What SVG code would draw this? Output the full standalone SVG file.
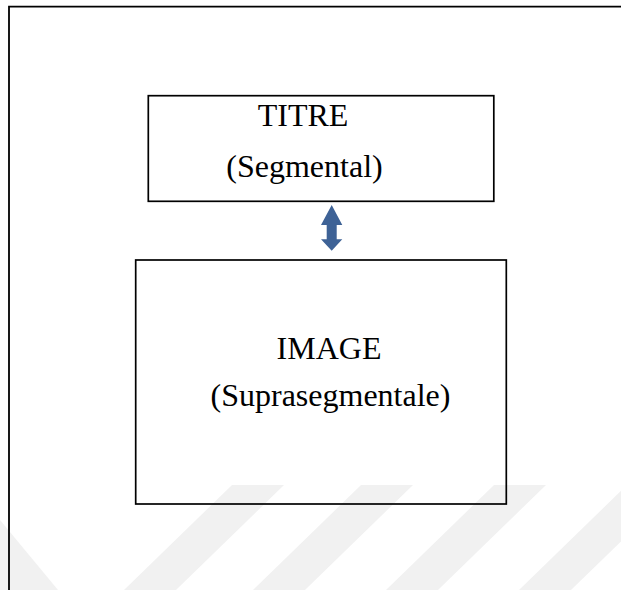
<svg xmlns="http://www.w3.org/2000/svg" width="621" height="590" viewBox="0 0 621 590">
<style>
.frame{fill:none;stroke:#000;stroke-width:1.8}
.box{fill:none;stroke:#000;stroke-width:1.7}
.wm{fill:#f1f1f1}
.lbl{font-family:"Liberation Serif","Times New Roman",serif;font-size:32px;fill:#000;text-anchor:middle}
.arrow{fill:#3e6296}
</style>
<g id="watermark">
<polygon class="wm" points="0,520 58,590 0,590"/>
<polygon class="wm" points="232,485 284,485 176,590 124,590"/>
<polygon class="wm" points="361,485 413,485 305,590 253,590"/>
<polygon class="wm" points="494,485 546,485 438,590 386,590"/>
<polygon class="wm" points="627,485 679,485 571,590 519,590"/>
</g>
<g id="frame">
<polyline class="frame" points="9,590 9,6.7 621,6.7"/>
</g>
<g id="node-titre">
<rect class="box" x="148.3" y="95.7" width="345.5" height="105.6"/>
<text class="lbl" x="303" y="126">TITRE</text>
<text class="lbl" x="304.5" y="177">(Segmental)</text>
</g>
<g id="node-image">
<rect class="box" x="135.7" y="260" width="370.6" height="244"/>
<text class="lbl" x="329" y="359">IMAGE</text>
<text class="lbl" x="330.5" y="406">(Suprasegmentale)</text>
</g>
<g id="connectors">
<polygon class="arrow" points="331.7,205 342.3,225 336.7,225 336.7,239.3 342.3,239.3 331.7,250.7 321,239.3 326.7,239.3 326.7,225 321,225"/>
</g>
</svg>
